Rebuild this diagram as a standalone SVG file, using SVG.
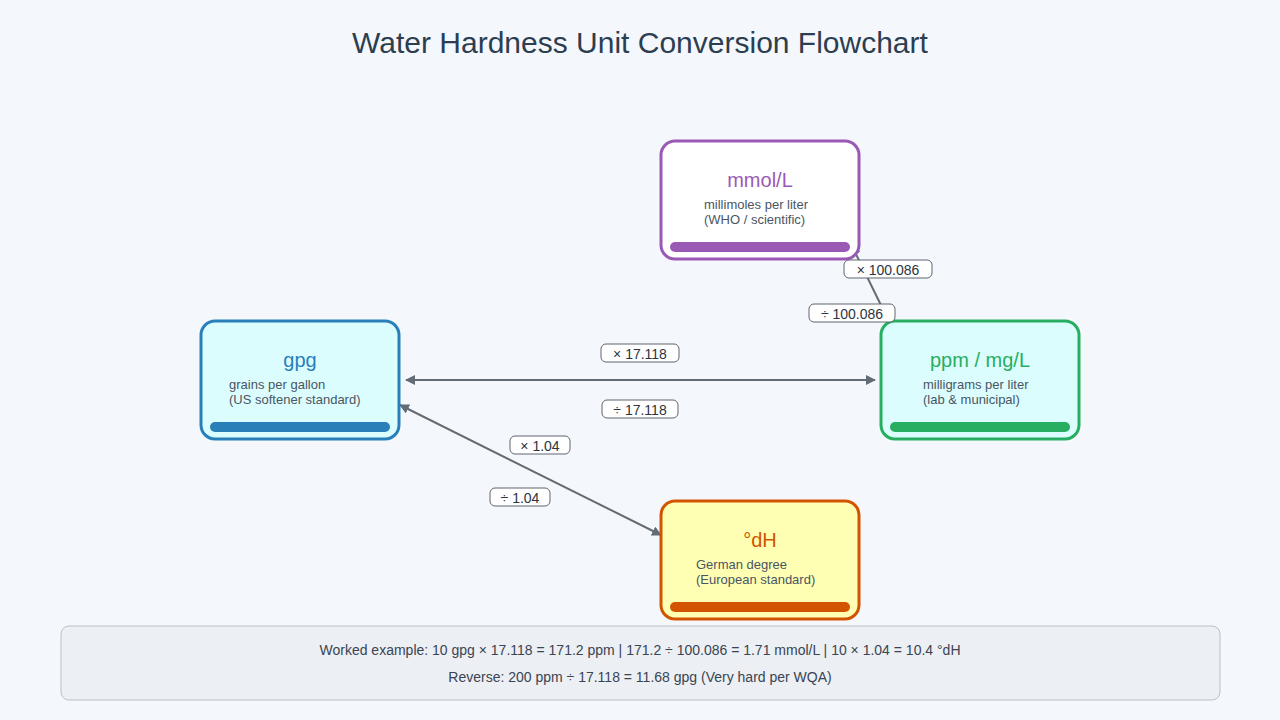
<svg xmlns="http://www.w3.org/2000/svg" width="1280" height="720" viewBox="0 0 1280 720">
<style>
text{font-family:"Liberation Sans",Arial,sans-serif}
.t{font-size:20px;text-anchor:middle}
.s{font-size:13px;fill:#4a5563}
.lb rect{fill:#fff;stroke:#5f6670;stroke-width:1}
.lb text{font-size:14px;fill:#2c3440;text-anchor:middle}
.c line{stroke:#636b75;stroke-width:2;marker-start:url(#a);marker-end:url(#a)}
</style>
<defs><marker id="a" viewBox="0 0 10 10" refX="9" refY="5" markerWidth="5" markerHeight="5" orient="auto-start-reverse"><path d="M0,0L10,5L0,10z" fill="#636b75"/></marker></defs>
<rect width="1280" height="720" fill="#f4f8fc"/>
<text x="640" y="53" font-size="30" text-anchor="middle" fill="#2c3e50">Water Hardness Unit Conversion Flowchart</text>
<g class="c">
<line x1="406" y1="380" x2="875" y2="380"/>
<line x1="852" y1="246" x2="898" y2="340"/>
<line x1="400" y1="405" x2="661" y2="535"/>
</g>
<g id="mmol"><rect x="661" y="141" width="198" height="118" rx="14" fill="#fff" stroke="#9b59b6" stroke-width="3"/><rect x="670" y="242" width="180" height="10" rx="5" fill="#9b59b6"/><text class="t" x="760" y="187" fill="#9b59b6">mmol/L</text><text class="s" x="704" y="209">millimoles per liter</text><text class="s" x="704" y="224">(WHO / scientific)</text></g>
<g id="gpg"><rect x="201" y="321" width="198" height="118" rx="14" fill="#dcfdfe" stroke="#2980b9" stroke-width="3"/><rect x="210" y="422" width="180" height="10" rx="5" fill="#2980b9"/><text class="t" x="300" y="367" fill="#2980b9">gpg</text><text class="s" x="229" y="389">grains per gallon</text><text class="s" x="229" y="404">(US softener standard)</text></g>
<g id="ppm"><rect x="881" y="321" width="198" height="118" rx="14" fill="#dcfdfe" stroke="#27ae60" stroke-width="3"/><rect x="890" y="422" width="180" height="10" rx="5" fill="#27ae60"/><text class="t" x="980" y="367" fill="#27ae60">ppm / mg/L</text><text class="s" x="923" y="389">milligrams per liter</text><text class="s" x="923" y="404">(lab &amp; municipal)</text></g>
<g id="dh"><rect x="661" y="501" width="198" height="118" rx="14" fill="#ffffb3" stroke="#d35400" stroke-width="3"/><rect x="670" y="602" width="180" height="10" rx="5" fill="#d35400"/><text class="t" x="760" y="547" fill="#d35400">°dH</text><text class="s" x="696" y="569">German degree</text><text class="s" x="696" y="584">(European standard)</text></g>
<g class="lb">
<rect x="844" y="260" width="88" height="18" rx="5"/><text x="888" y="275">× 100.086</text>
<rect x="809" y="304" width="86" height="18" rx="5"/><text x="852" y="319">÷ 100.086</text>
<rect x="601" y="344" width="78" height="18" rx="5"/><text x="640" y="359">× 17.118</text>
<rect x="602" y="400" width="76" height="18" rx="5"/><text x="640" y="415">÷ 17.118</text>
<rect x="510" y="436" width="60" height="18" rx="5"/><text x="540" y="451">× 1.04</text>
<rect x="490" y="488" width="60" height="18" rx="5"/><text x="520" y="503">÷ 1.04</text>
</g>
<g id="example"><rect x="61" y="626" width="1159" height="74" rx="8" fill="#eceff4" stroke="#b8c0cc"/>
<text x="640" y="655" font-size="14" text-anchor="middle" fill="#3a4452">Worked example:  10 gpg × 17.118 = 171.2 ppm  |  171.2 ÷ 100.086 = 1.71 mmol/L  |  10 × 1.04 = 10.4 °dH</text>
<text x="640" y="682" font-size="14" text-anchor="middle" fill="#3a4452">Reverse: 200 ppm ÷ 17.118 = 11.68 gpg  (Very hard per WQA)</text></g>
</svg>
